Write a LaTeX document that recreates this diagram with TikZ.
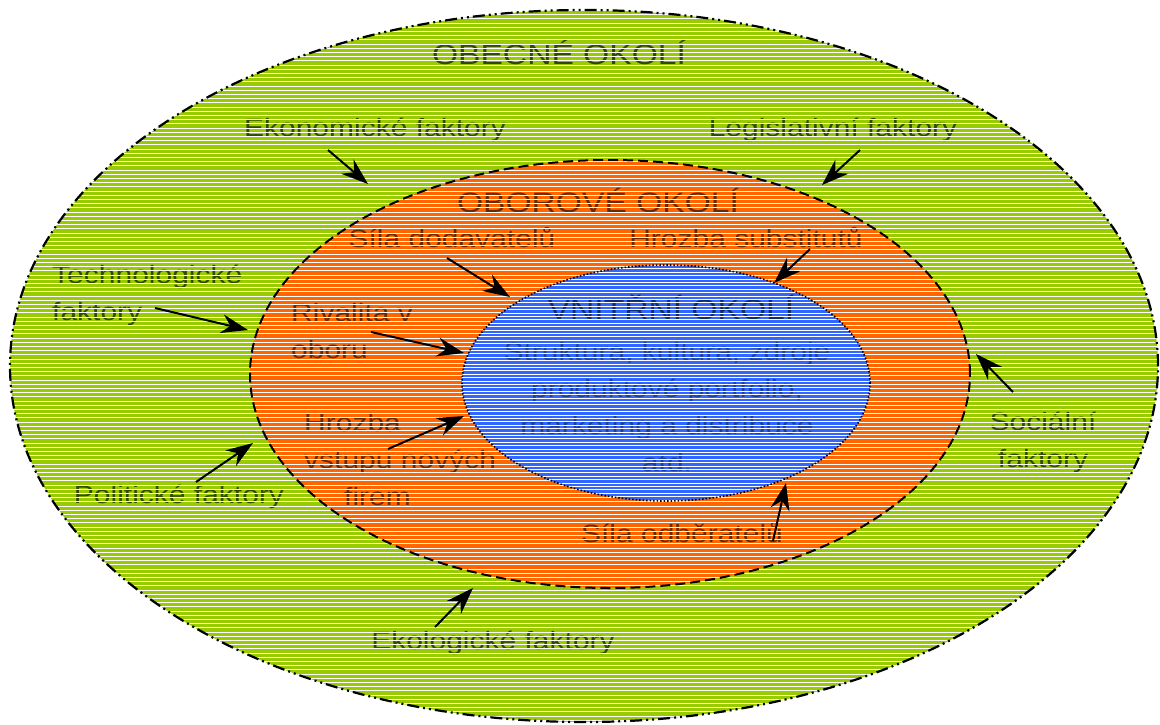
\documentclass[tikz,border=0pt]{standalone}
\usepackage{fontspec}
\setmainfont{Liberation Sans}[FakeStretch=1.2]
\usetikzlibrary{arrows.meta}
\definecolor{gfill}{RGB}{153,204,0}
\definecolor{ofill}{RGB}{255,102,0}
\definecolor{bfill}{RGB}{51,102,255}
\colorlet{gtext}{black!65!gfill}
\colorlet{otext}{black!60!ofill}
\colorlet{btext}{black!60!bfill}
\colorlet{btexttwo}{black!40!bfill}
\tikzset{
  lbl/.style={inner sep=0pt, font=\fontsize{25}{37}\selectfont},
  head/.style={inner sep=0pt, font=\fontsize{28}{34}\selectfont},
  arr/.style={-{Stealth[length=27pt,width=19pt,inset=9pt]}, line width=2pt, black},
  stripe/.style={white, line width=1.0pt},
  stripeb/.style={white, line width=0.9pt},
  outerline/.style={line width=2.2pt, dash pattern=on 12pt off 4pt on 2pt off 4pt on 2pt off 4pt},
  midline/.style={line width=2pt, dash pattern=on 10pt off 5pt},
  innerline/.style={line width=1.6pt, dash pattern=on 1.5pt off 2pt},
}
\begin{document}
\begin{tikzpicture}[x=1pt,y=-1pt]
\useasboundingbox (0,0) rectangle (1160,724);

% ---------- general environment ----------
\fill[gfill] (584,366) ellipse [x radius=574pt, y radius=356pt];
\node[head, text=gtext] (obecne) at (559,52) {OBECNÉ OKOLÍ};
\node[lbl, text=gtext] (ekon) at (375,130) {Ekonomické faktory};
\node[lbl, text=gtext] (legis) at (833,130) {Legislativní faktory};
\node[lbl, text=gtext, anchor=west, align=left] (techn) at (52,295) {Technologické\\faktory};
\node[lbl, text=gtext, align=center] (soc) at (1043,442) {Sociální\\faktory};
\node[lbl, text=gtext] (polit) at (179,497) {Politické faktory};
\node[lbl, text=gtext] (ekol) at (493,643) {Ekologické faktory};
\begin{scope}
  \clip (584,366) ellipse [x radius=574pt, y radius=356pt];
  \draw[stripe] \foreach \k in {0,...,172} {(0,2+4.2*\k) -- (1160,2+4.2*\k)};
\end{scope}

% ---------- industry environment ----------
\fill[ofill] (610,374) ellipse [x radius=360pt, y radius=214pt];
\node[head, text=otext] (oborove) at (598,200) {OBOROVÉ OKOLÍ};
\node[lbl, text=otext] (dodav) at (452,238) {Síla dodavatelů};
\node[lbl, text=otext] (subst) at (746,238) {Hrozba substitutů};
\node[lbl, text=otext, anchor=west, align=left] (rival) at (291,331) {Rivalita v\\oboru};
\node[lbl, text=otext, anchor=west, align=left] (vstup) at (304,460) {Hrozba\\vstupu nových\\\hspace*{40pt}firem};
\node[lbl, text=otext] (odber) at (682,533) {Síla odběratelů};
\begin{scope}
  \clip (610,374) ellipse [x radius=360pt, y radius=214pt];
  \draw[stripe] \foreach \k in {0,...,172} {(0,2+4.2*\k) -- (1160,2+4.2*\k)};
\end{scope}

% ---------- internal environment ----------
\fill[bfill] (666,383) ellipse [x radius=204pt, y radius=118pt];
\node[head, text=btext] (vnitrni) at (671,307) {VNITŘNÍ OKOLÍ};
\node[lbl, text=btexttwo, align=center] (strukt) at (667,407) {Struktura, kultura, zdroje\\produktové portfolio,\\marketing a distribuce\\atd.};
\begin{scope}
  \clip (666,383) ellipse [x radius=204pt, y radius=118pt];
  \draw[stripeb] \foreach \k in {0,...,75} {(0,262+3.4*\k) -- (1160,262+3.4*\k)};
\end{scope}

% ---------- outlines ----------
\draw[outerline] (584,366) ellipse [x radius=574pt, y radius=356pt];
\draw[midline] (610,374) ellipse [x radius=360pt, y radius=214pt];
\draw[innerline] (666,383) ellipse [x radius=204pt, y radius=118pt];

% ---------- arrows ----------
\coordinate (a1s) at (328,150); \coordinate (a1e) at (368,184);
\coordinate (a2s) at (860,150); \coordinate (a2e) at (822,185);
\coordinate (a3s) at (447,258); \coordinate (a3e) at (510,297);
\coordinate (a4s) at (810,249); \coordinate (a4e) at (774,283);
\coordinate (a5s) at (155,308); \coordinate (a5e) at (248,330);
\coordinate (a6s) at (371,332); \coordinate (a6e) at (464,353);
\coordinate (a7s) at (388,449); \coordinate (a7e) at (464,416);
\coordinate (a8s) at (196,482); \coordinate (a8e) at (253,443);
\coordinate (a9s) at (1013,392); \coordinate (a9e) at (976,354);
\coordinate (a10s) at (773,541); \coordinate (a10e) at (786,483);
\coordinate (a11s) at (435,627); \coordinate (a11e) at (473,588);
\draw[arr] (a1s) -- (a1e);
\draw[arr] (a2s) -- (a2e);
\draw[arr] (a3s) -- (a3e);
\draw[arr] (a4s) -- (a4e);
\draw[arr] (a5s) -- (a5e);
\draw[arr] (a6s) -- (a6e);
\draw[arr] (a7s) -- (a7e);
\draw[arr] (a8s) -- (a8e);
\draw[arr] (a9s) -- (a9e);
\draw[arr] (a10s) -- (a10e);
\draw[arr] (a11s) -- (a11e);
\end{tikzpicture}
\end{document}
